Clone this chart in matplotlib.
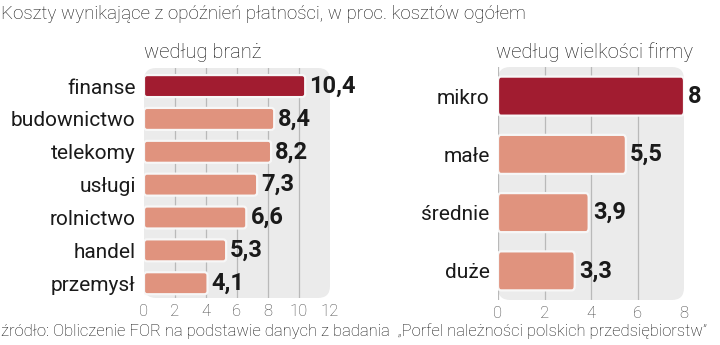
import matplotlib.pyplot as plt
from matplotlib.patches import FancyBboxPatch

# dane
branze = ["finanse", "budownictwo", "telekomy", "usługi", "rolnictwo", "handel", "przemysł"]
branze_val = [10.4, 8.4, 8.2, 7.3, 6.6, 5.3, 4.1]
firmy = ["mikro", "małe", "średnie", "duże"]
firmy_val = [8, 5.5, 3.9, 3.3]
ticks_l = [0, 2, 4, 6, 8, 10, 12]
ticks_r = [0, 2, 4, 6, 8]

title = "Koszty wynikające z opóźnień płatności, w proc. kosztów ogółem"
sub_l = "według branż"
sub_r = "według wielkości firmy"
source = "źródło: Obliczenie FOR na podstawie danych z badania  „Porfel należności polskich przedsiębiorstw”"

DARK = "#a11c30"
LIGHT = "#e0937e"
PANEL = "#ebebeb"
GRID = "#b9b9b9"

plt.rcParams['font.family'] = ['Roboto', 'DejaVu Sans']

fig = plt.figure(figsize=(7.2, 3.45), dpi=100)
fig.patch.set_facecolor("white")


def panel(ax, cats, vals, ticks, xmax, ylim, rx, asp, zero_line):
    ax.set_facecolor("none")
    ax.set_xlim(0, xmax)
    ax.set_ylim(*ylim)
    for s in ax.spines.values():
        s.set_visible(False)
    # tlo z zaokraglonym rogiem
    bg = FancyBboxPatch((0, 0), 1, 1, transform=ax.transAxes,
                        boxstyle="round,pad=0,rounding_size=0.065",
                        facecolor=PANEL, edgecolor="none", zorder=0,
                        mutation_aspect=0.8)
    ax.add_patch(bg)
    start = 0 if zero_line else 1
    for t in ticks[start:-1]:
        ax.axvline(t, color=GRID, lw=0.9, zorder=1)
    y = list(range(len(cats)))
    bars = ax.barh(y, vals, height=0.67, zorder=2)
    for i, b in enumerate(bars):
        b.set_visible(False)
        p = FancyBboxPatch((b.get_x(), b.get_y()), b.get_width(), b.get_height(),
                           boxstyle="round,pad=0,rounding_size=%f" % rx,
                           mutation_aspect=asp,
                           facecolor=DARK if i == 0 else LIGHT,
                           edgecolor="#f7f7f7", lw=1.6, zorder=3)
        ax.add_patch(p)
        ax.text(b.get_width() + xmax * 0.022, b.get_y() + b.get_height() / 2,
                ("%g" % vals[i]).replace(".", ","), ha="left", va="center",
                fontsize=17, fontweight="bold", color="#1a1a1a", zorder=4)
    ax.set_yticks(y)
    ax.set_yticklabels(cats, fontsize=15, color="#1a1a1a")
    ax.set_xticks(ticks)
    ax.set_xticklabels([str(t) for t in ticks], fontsize=12, color="#444444",
                       fontweight="light")
    ax.tick_params(length=0, pad=4)
    ax.tick_params(axis="y", pad=6)


ax1 = fig.add_axes([144 / 720, 1 - 298 / 345, 186 / 720, 230 / 345])
panel(ax1, branze, branze_val, ticks_l, 12, (6.45, -0.55), 0.2, 0.45, False)

ax2 = fig.add_axes([498 / 720, 1 - 300 / 345, 186 / 720, 233 / 345])
panel(ax2, firmy, firmy_val, ticks_r, 8, (3.5, -0.5), 0.13, 0.55, True)

fig.text(0.001, 1 - 14 / 345, title, ha="left", va="center", fontsize=13.5,
         fontweight="light", color="#111111")
fig.text(203 / 720, 1 - 52 / 345, sub_l, ha="center", va="center", fontsize=14.5,
         fontweight="light", color="#111111")
fig.text(595 / 720, 1 - 52 / 345, sub_r, ha="center", va="center", fontsize=14.5,
         fontweight="light", color="#111111")
fig.text(0.001, 1 - 331 / 345, source, ha="left", va="center", fontsize=12,
         fontweight="light", color="#111111")

fig.savefig("out.png", dpi=100)
